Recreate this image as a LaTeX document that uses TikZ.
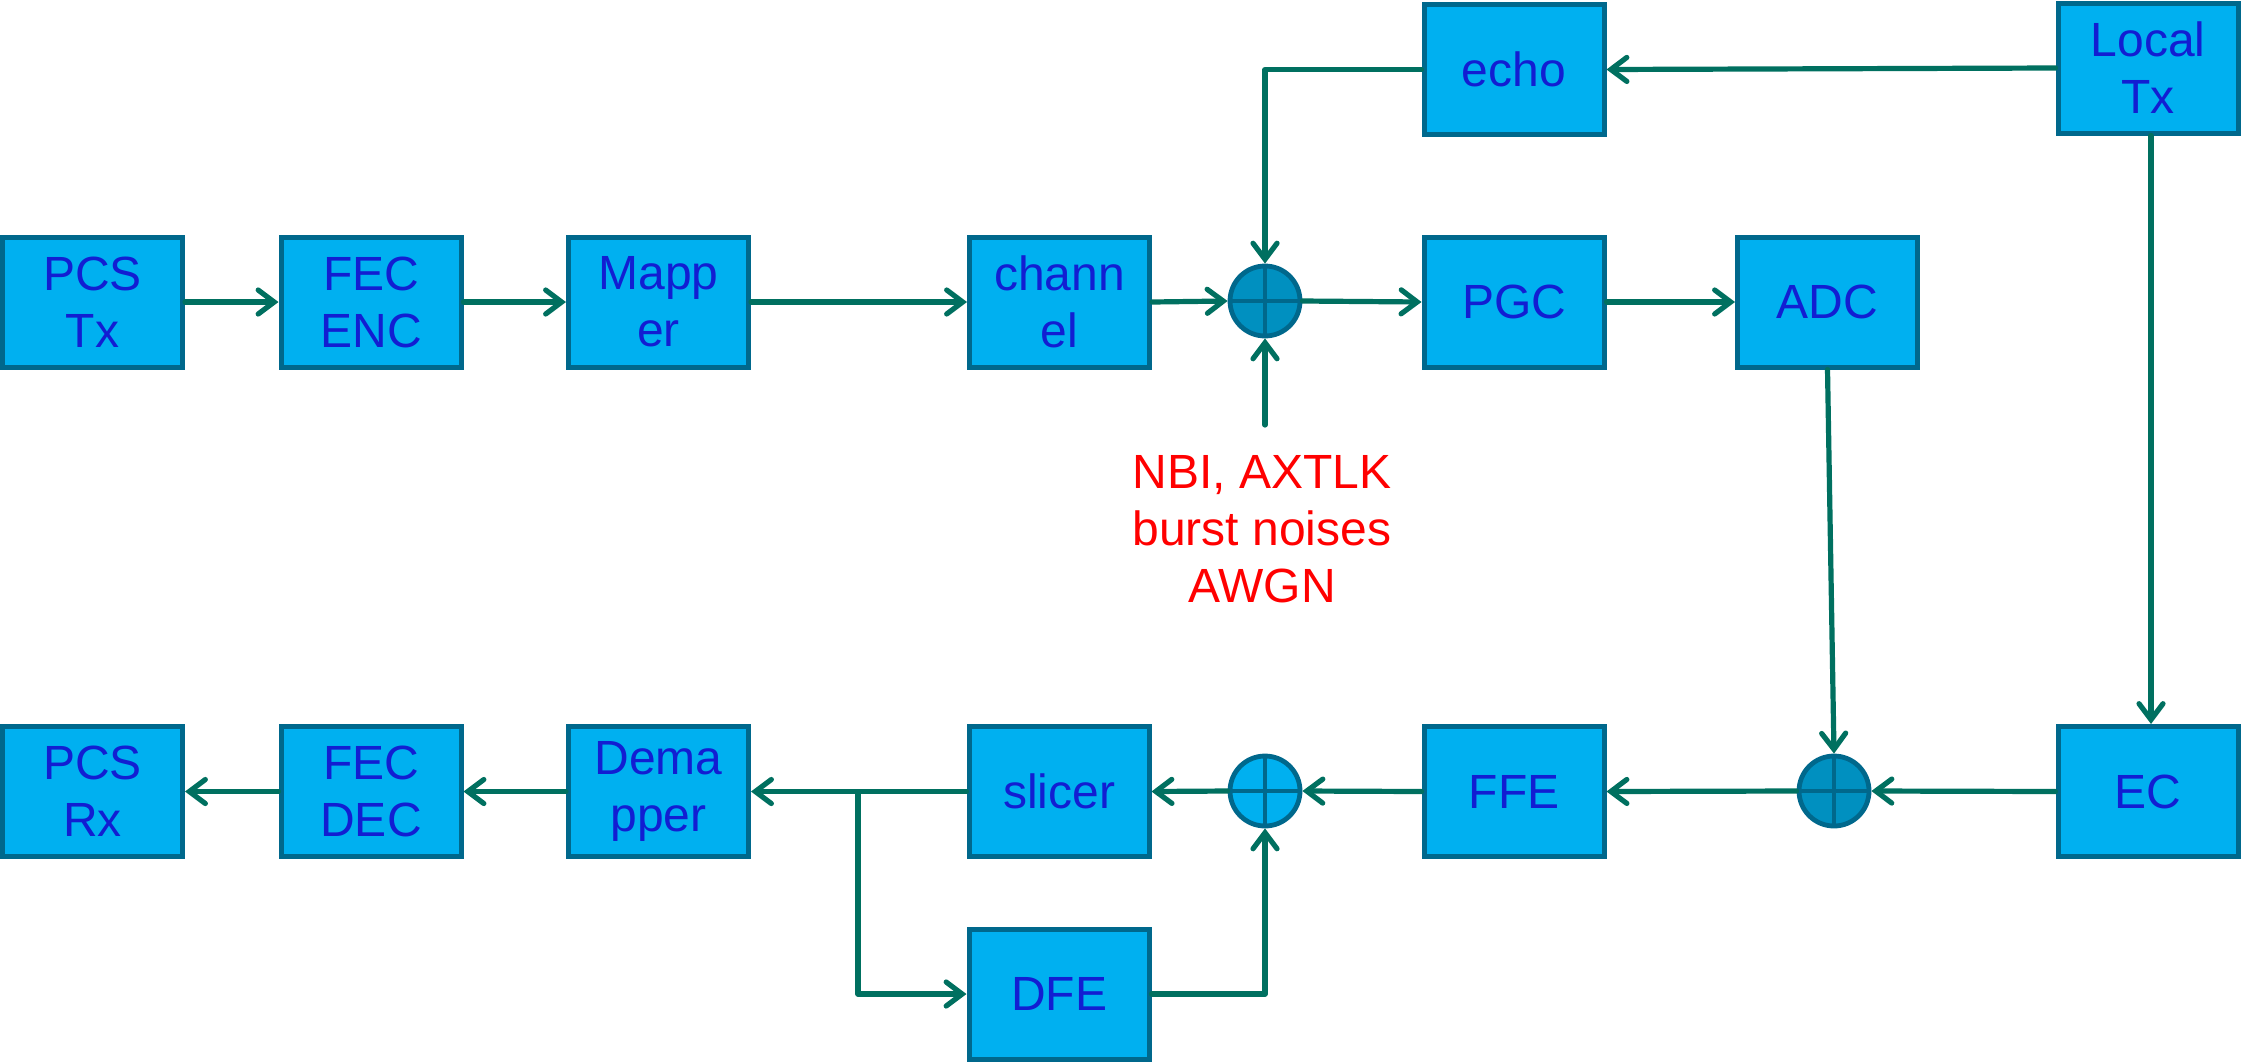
\documentclass[tikz,border=0pt]{standalone}
\usepackage{fontspec}
\setmainfont{Liberation Sans}
\usetikzlibrary{arrows.meta}
\definecolor{boxfill}{RGB}{0,176,240}
\definecolor{boxline}{RGB}{0,104,140}
\definecolor{darkfill}{RGB}{0,144,192}
\definecolor{txtblue}{RGB}{18,30,210}
\definecolor{wire}{RGB}{0,112,96}
\tikzset{
  blk/.style={draw=boxline, fill=boxfill, line width=2.5pt, minimum width=90pt, minimum height=65pt,
    inner sep=0pt, text=txtblue, font=\fontsize{24}{28.5}\selectfont, align=center},
  sumnode/.style={circle, draw=boxline, line width=2.4pt, minimum size=35pt, inner sep=0pt, fill=boxfill,
    path picture={\draw[boxline, line width=2.2pt] (path picture bounding box.north) -- (path picture bounding box.south)
      (path picture bounding box.west) -- (path picture bounding box.east);}},
  darksum/.style={sumnode, fill=darkfill},
  conn/.style={draw=wire, line width=2.6pt, line cap=round, line join=round},
  arr/.style={conn, -{Straight Barb[length=8pt, width=12pt, line width=2.6pt, line cap=round]}},
  noise/.style={text=red, font=\fontsize{24}{28.5}\selectfont, align=center}
}
\begin{document}
\begin{tikzpicture}[x=0.5pt, y=-0.5pt]
\useasboundingbox (0,0) rectangle (2241,1061);
% top row
\node[blk] (pcstx) at (92.5,302) {PCS\\Tx};
\node[blk] (fecenc) at (371,302) {FEC\\ENC};
\node[blk] (mapper) at (658.5,302) {Mapp\\er};
\node[blk] (channel) at (1059.5,302) {chann\\el};
\node[darksum] (sum1) at (1265,301) {};
\node[blk] (pgc) at (1514,302) {PGC};
\node[blk] (adc) at (1827.5,302) {ADC};
\node[blk] (echo) at (1514,69.5) {echo};
\node[blk] (localtx) at (2148,68) {Local\\Tx};
\node[noise] (noise) at (1262,529) {NBI, AXTLK\\burst noises\\AWGN};
\coordinate (noisetop) at (1265,425);
% bottom row
\node[blk] (ec) at (2148,791.5) {EC};
\node[darksum] (sum3) at (1834,791) {};
\node[blk] (ffe) at (1514,791.5) {FFE};
\node[sumnode] (sum2) at (1265,791) {};
\node[blk] (slicer) at (1059,791.5) {slicer};
\node[blk] (dfe) at (1059,994) {DFE};
\node[blk] (demapper) at (658.5,791.5) {Dema\\pper};
\node[blk] (fecdec) at (371,791.5) {FEC\\DEC};
\node[blk] (pcsrx) at (92.5,791.5) {PCS\\Rx};
\coordinate (branch) at (858,793);
% connectors top
\draw[arr] (pcstx.east) -- (fecenc.west);
\draw[arr] (fecenc.east) -- (mapper.west);
\draw[arr] (mapper.east) -- (channel.west);
\draw[arr] (channel.east) -- (sum1.west);
\draw[arr] (sum1.east) -- (pgc.west);
\draw[arr] (pgc.east) -- (adc.west);
\draw[arr] (localtx.west) -- (echo.east);
\draw[arr] (echo.west) -| (sum1.north);
\draw[arr] (noisetop) -- (sum1.south);
\draw[arr] (localtx.south -| 2151,0) -- (ec.north -| 2151,0);
\draw[arr] (adc.south) -- (sum3.north);
% connectors bottom
\draw[arr] (ec.west) -- (sum3.east);
\draw[arr] (sum3.west) -- (ffe.east);
\draw[arr] (ffe.west) -- (sum2.east);
\draw[arr] (sum2.west) -- (slicer.east);
\draw[arr] (slicer.west) -- (demapper.east);
\draw[arr] (demapper.west) -- (fecdec.east);
\draw[arr] (fecdec.west) -- (pcsrx.east);
\draw[arr] (branch) |- (dfe.west);
\draw[arr] (dfe.east) -| (sum2.south);
\end{tikzpicture}
\end{document}
